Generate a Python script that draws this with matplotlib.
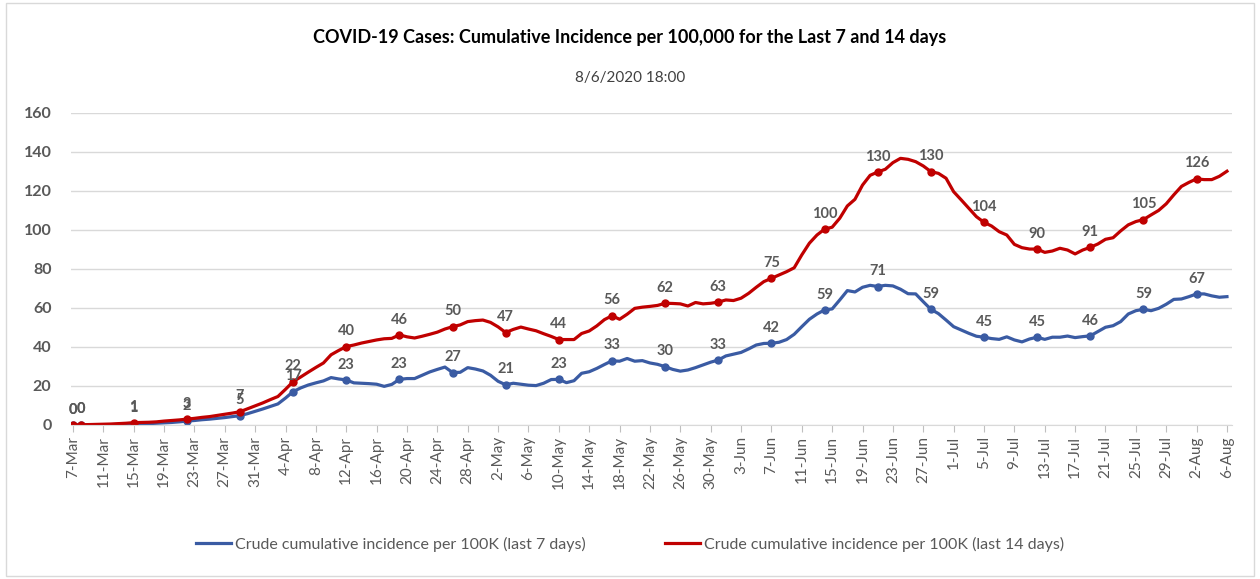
import numpy as np
import pandas as pd
import matplotlib
matplotlib.use("Agg")
import matplotlib.pyplot as plt
from matplotlib.patches import Rectangle

# Daily dates, 7-Mar to 6-Aug 2020
dates = pd.date_range("2020-03-07", "2020-08-06", freq="D")

# Crude cumulative incidence per 100K, last 7 days
last7 = [0.0, 0.1, 0.1, 0.1, 0.2, 0.2, 0.3, 0.4, 0.6, 0.6,
         0.7, 0.9, 1.1, 1.3, 1.6, 2.0, 2.3, 2.7, 3.0, 3.4,
         3.8, 4.3, 4.8, 5.8, 7.0, 8.2, 9.5, 10.8, 13.8, 17.1,
         19.0, 20.5, 21.6, 22.6, 24.3, 23.6, 23.1, 21.6, 21.4, 21.2,
         20.9, 19.8, 20.8, 23.4, 23.8, 23.8, 25.5, 27.2, 28.5, 29.7,
         26.9, 27.0, 29.4, 28.7, 27.7, 25.5, 22.4, 20.6, 21.4, 20.9,
         20.4, 20.2, 21.4, 23.3, 23.4, 21.7, 22.7, 26.5, 27.3, 29.0,
         31.0, 32.9, 32.7, 34.1, 32.7, 33.0, 31.8, 31.1, 29.9, 28.5,
         27.6, 28.2, 29.4, 30.8, 32.2, 33.3, 35.4, 36.3, 37.2, 39.0,
         41.0, 41.8, 41.9, 42.4, 43.8, 46.5, 50.4, 54.2, 56.9, 59.0,
         59.5, 64.1, 68.9, 68.2, 70.6, 71.6, 71.0, 71.6, 71.3, 69.6,
         67.3, 67.2, 63.2, 59.3, 57.1, 53.8, 50.4, 48.7, 47.0, 45.5,
         45.0, 44.3, 43.9, 45.2, 43.6, 42.6, 44.1, 45.0, 43.9, 45.0,
         45.0, 45.6, 44.8, 45.3, 45.7, 47.9, 50.1, 50.9, 53.0, 56.9,
         58.6, 59.3, 58.6, 59.8, 61.9, 64.4, 64.6, 65.8, 67.2, 67.2,
         66.2, 65.5, 65.8]

# Crude cumulative incidence per 100K, last 14 days
last14 = [0.0, 0.1, 0.2, 0.3, 0.4, 0.5, 0.7, 0.9, 1.2, 1.3,
          1.4, 1.6, 2.0, 2.3, 2.6, 3.0, 3.4, 3.9, 4.3, 4.9,
          5.5, 6.1, 6.8, 8.3, 9.8, 11.3, 13.0, 14.6, 18.3, 22.2,
          24.6, 27.1, 29.5, 31.8, 36.0, 38.2, 40.2, 41.0, 42.0, 42.8,
          43.6, 44.2, 44.4, 46.2, 45.2, 44.6, 45.5, 46.5, 47.6, 49.2,
          50.4, 51.3, 53.0, 53.5, 53.8, 52.6, 50.3, 47.4, 49.0, 50.2,
          49.2, 48.3, 46.8, 45.4, 43.8, 43.8, 43.8, 46.9, 48.2, 50.8,
          54.0, 56.0, 54.2, 56.8, 59.8, 60.4, 60.8, 61.3, 62.4, 62.3,
          62.1, 61.0, 62.8, 62.1, 62.4, 63.0, 64.1, 63.8, 65.0, 67.5,
          70.6, 73.5, 75.2, 76.9, 78.6, 80.6, 87.2, 93.2, 97.4, 100.4,
          101.4, 106.0, 112.3, 115.7, 123.0, 128.0, 129.7, 131.1, 134.5, 136.7,
          136.2, 135.0, 132.8, 129.9, 129.0, 126.5, 119.6, 115.4, 111.1, 106.8,
          103.9, 102.0, 99.1, 97.4, 92.6, 90.9, 90.2, 90.2, 88.5, 89.2,
          90.6, 89.7, 87.7, 89.7, 91.1, 92.8, 95.2, 96.0, 99.5, 102.6,
          104.3, 105.3, 107.7, 110.0, 113.4, 118.0, 122.3, 124.4, 126.2, 125.8,
          125.8, 127.5, 130.1]

# Days that carry a marker and a data label
marker_days = [0] + list(range(1, 153, 7))

blue = "#3A5BA3"
red = "#C00000"
grey = "#595959"
font = ["Lato", "DejaVu Sans"]
plt.rcParams["font.family"] = font

fig = plt.figure(figsize=(12.6, 5.79), dpi=100)
fig.patches.append(Rectangle((0.005, 0.005), 0.99, 0.99, transform=fig.transFigure,
                             fill=False, edgecolor="#D9D9D9", linewidth=1))
ax = fig.add_axes([0.0563, 0.266, 0.9217, 0.539])

x = np.arange(len(dates))
for vals, col, lab in [(last7, blue, "Crude cumulative incidence per 100K (last 7 days)"),
                       (last14, red, "Crude cumulative incidence per 100K (last 14 days)")]:
    vals = np.array(vals)
    ax.plot(x, vals, color=col, linewidth=2.3, label=lab, solid_joinstyle="round")
    ax.plot(x[marker_days], vals[marker_days], "o", color=col, markersize=5)
    for d in marker_days:
        ax.annotate(f"{vals[d]:.0f}", (x[d], vals[d]), xytext=(0, 6),
                    textcoords="offset points", ha="center", va="bottom",
                    fontsize=10.5, color=grey, fontweight="bold")

ax.set_ylim(0, 160)
ax.set_xlim(-0.26, 152.7)
ax.set_yticks(np.arange(0, 161, 20))
ax.grid(axis="y", color="#D9D9D9", linewidth=1)
ax.set_axisbelow(True)
tick_pos = x[::4]
ax.set_xticks(tick_pos)
ax.set_xticklabels([f"{d.day}-{d.strftime('%b')}" for d in dates[::4]],
                   rotation=90, fontsize=11, color=grey)
ax.tick_params(axis="x", length=5, color="#BFBFBF", pad=3)
ax.tick_params(axis="y", length=0, labelsize=11.5, labelcolor=grey, pad=14)
for lbl in ax.get_yticklabels():
    lbl.set_fontweight("bold")
for s in ["top", "right", "left"]:
    ax.spines[s].set_visible(False)
ax.spines["bottom"].set_color("#D9D9D9")

fig.text(0.5, 0.935, "COVID-19 Cases: Cumulative Incidence per 100,000 for the Last 7 and 14 days",
         ha="center", va="center", fontsize=13, fontweight="bold", color="black")
fig.text(0.5, 0.865, "8/6/2020 18:00", ha="center", va="center", fontsize=11, color="#404040")

leg = fig.legend(loc="center", bbox_to_anchor=(0.5, 0.06), ncol=2, frameon=False,
                 fontsize=11.5, handlelength=2.2, columnspacing=5, handletextpad=0.2)
for t in leg.get_texts():
    t.set_color(grey)

fig.savefig("out.png", dpi=100)
